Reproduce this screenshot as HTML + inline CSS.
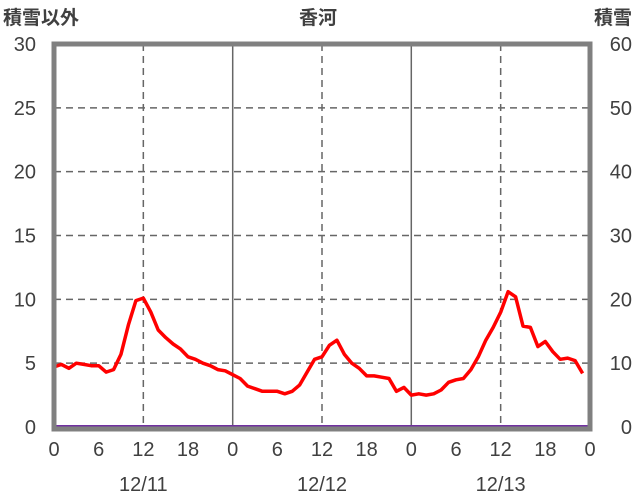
<!DOCTYPE html>
<html><head><meta charset="utf-8"><style>
html,body{margin:0;padding:0;background:#fff;}
svg{display:block;font-family:"Liberation Sans","Noto Sans CJK JP",sans-serif;}
</style></head><body>
<svg id="s" width="636" height="501" viewBox="0 0 636 501" xmlns="http://www.w3.org/2000/svg">
<g id="grid" stroke="#666" stroke-width="1.5" stroke-dasharray="7,5" fill="none"></g>
<line x1="232.7" y1="44" x2="232.7" y2="427" stroke="#666" stroke-width="1.5"/>
<line x1="411.3" y1="44" x2="411.3" y2="427" stroke="#666" stroke-width="1.5"/>
<polyline id="red" fill="none" stroke="#ff0000" stroke-width="3.5" stroke-linejoin="round"/>
<line x1="54" y1="426.5" x2="590" y2="426.5" stroke="#7030a0" stroke-width="3"/>
<path d="M54 429 V44 H590 V429 Z" fill="none" stroke="#808080" stroke-width="5"/>
<g id="lab" fill="#404040" font-size="20"></g>
<text x="3" y="24" font-size="19" font-weight="bold" fill="#404040">積雪以外</text>
<text x="318" y="24" font-size="19" font-weight="bold" fill="#404040" text-anchor="middle">香河</text>
<text x="632" y="24" font-size="19" font-weight="bold" fill="#404040" text-anchor="end">積雪</text>
</svg>
<script>
var d=[4.7,4.9,4.6,5.0,4.9,4.8,4.8,4.3,4.5,5.7,8.0,9.9,10.1,9.0,7.6,7.0,6.5,6.1,5.5,5.3,5.0,4.8,4.5,4.4,4.1,3.8,3.2,3.0,2.8,2.8,2.8,2.6,2.8,3.3,4.3,5.3,5.5,6.4,6.8,5.7,5.0,4.6,4.0,4.0,3.9,3.8,2.8,3.1,2.5,2.6,2.5,2.6,2.9,3.5,3.7,3.8,4.5,5.5,6.8,7.8,9.0,10.6,10.2,7.9,7.8,6.3,6.7,5.9,5.3,5.4,5.2,4.2];
function X(h){return 54+h*536/72;}function Y(v){return 427-v*383/30;}
document.getElementById('red').setAttribute('points',d.map(function(v,i){return X(i).toFixed(1)+','+Y(v).toFixed(1)}).join(' '));
var g=document.getElementById('grid'),l=document.getElementById('lab'),s='';
for(var v=5;v<30;v+=5)s+='<line x1="54" x2="590" y1="'+Y(v)+'" y2="'+Y(v)+'"/>';
[12,36,60].forEach(function(h){s+='<line y1="44" y2="427" x1="'+X(h)+'" x2="'+X(h)+'"/>';});
g.innerHTML=s;
var t='';
for(var v=0;v<=30;v+=5){t+='<text x="36" y="'+(Y(v)+7)+'" text-anchor="end">'+v+'</text>';t+='<text x="632" y="'+(Y(v)+7)+'" text-anchor="end">'+(v*2)+'</text>';}
for(var h=0;h<=72;h+=6){t+='<text x="'+X(h)+'" y="456" text-anchor="middle">'+(h%24)+'</text>';}
['12/11','12/12','12/13'].forEach(function(s2,i){t+='<text x="'+X(12+24*i)+'" y="491" text-anchor="middle">'+s2+'</text>';});
l.innerHTML=t;
</script>
</body></html>
